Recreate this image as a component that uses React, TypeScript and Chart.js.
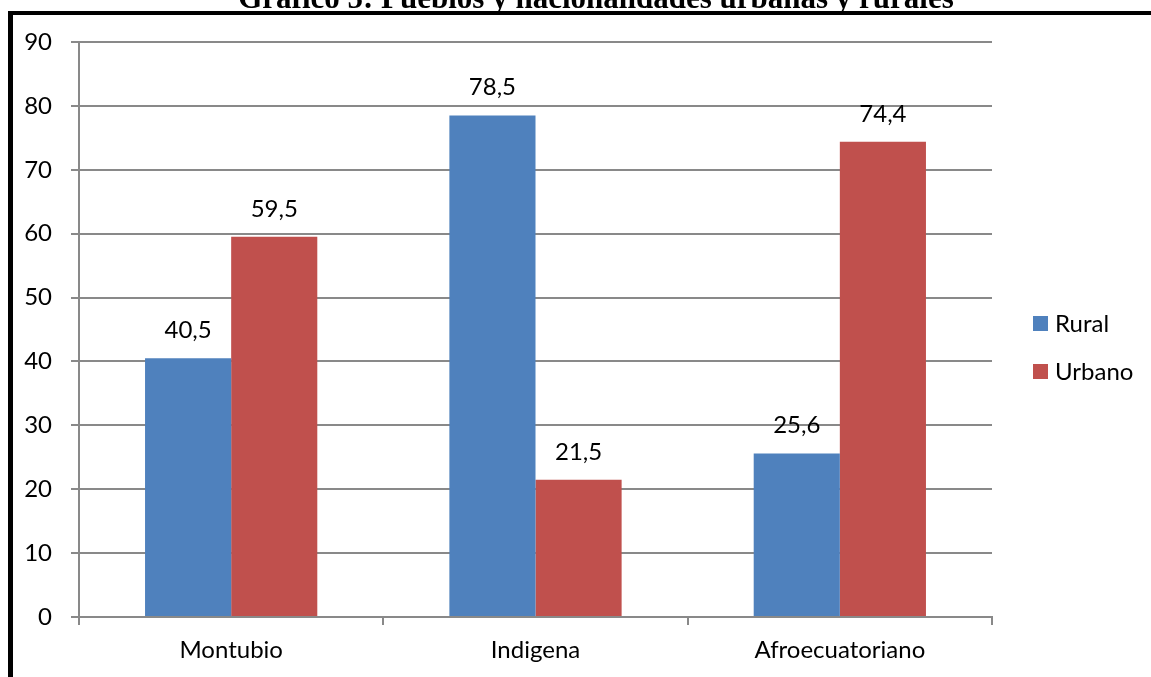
import React, { useEffect, useRef } from "react";
import { Chart, registerables } from "chart.js";

Chart.register(...registerables);

const title = "Gráfico 5: Pueblos y nacionalidades urbanas y rurales";
const categories = ["Montubio", "Indigena", "Afroecuatoriano"];
const seriesNames = ["Rural", "Urbano"];
const ruralValues = [40.5, 78.5, 25.6];
const urbanoValues = [59.5, 21.5, 74.4];
const seriesColors = ["#4F81BD", "#C0504D"];
const yMin = 0;
const yMax = 90;
const yStep = 10;

const FONT = "Lato, 'Open Sans', sans-serif";
const GRID = "#898989";

const fmt = (v: number) => v.toFixed(1).replace(".", ",");

const framePlugin = {
  id: "frame",
  beforeDraw(chart: any) {
    const ctx = chart.ctx;
    ctx.save();
    ctx.fillStyle = "#ffffff";
    ctx.fillRect(0, 0, chart.width, chart.height);
    ctx.fillStyle = "#000000";
    ctx.fillRect(8, 11, chart.width - 8, 4);
    ctx.fillRect(8, 11, 5, chart.height - 11);
    ctx.font = "bold 31px 'Liberation Serif', 'Times New Roman', serif";
    ctx.textAlign = "center";
    ctx.textBaseline = "alphabetic";
    ctx.fillText(title, 596, 8);
    ctx.restore();
  },
};

const valueLabelPlugin = {
  id: "valueLabels",
  afterDatasetsDraw(chart: any) {
    const ctx = chart.ctx;
    ctx.save();
    ctx.font = `24px ${FONT}`;
    ctx.fillStyle = "#000000";
    ctx.textAlign = "center";
    ctx.textBaseline = "alphabetic";
    chart.data.datasets.forEach((ds: any, i: number) => {
      const meta = chart.getDatasetMeta(i);
      meta.data.forEach((el: any, j: number) => {
        ctx.fillText(fmt(ds.data[j]), el.x, el.y - 20);
      });
    });
    ctx.restore();
  },
};

const legendPlugin = {
  id: "sideLegend",
  afterDraw(chart: any) {
    const ctx = chart.ctx;
    ctx.save();
    ctx.font = `24px ${FONT}`;
    ctx.textAlign = "left";
    ctx.textBaseline = "middle";
    chart.data.datasets.forEach((ds: any, i: number) => {
      const top = 316 + i * 48;
      ctx.fillStyle = ds.backgroundColor;
      ctx.fillRect(1033, top, 15, 15);
      ctx.fillStyle = "#000000";
      ctx.fillText(ds.label, 1055, top + 8);
    });
    ctx.restore();
  },
};

export default function App() {
  const canvasRef = useRef<HTMLCanvasElement | null>(null);

  useEffect(() => {
    if (!canvasRef.current) return;
    const chart = new Chart(canvasRef.current, {
      type: "bar",
      data: {
        labels: categories,
        datasets: [
          {
            label: seriesNames[0],
            data: ruralValues,
            backgroundColor: seriesColors[0],
            categoryPercentage: 0.566,
            barPercentage: 1,
          },
          {
            label: seriesNames[1],
            data: urbanoValues,
            backgroundColor: seriesColors[1],
            categoryPercentage: 0.566,
            barPercentage: 1,
          },
        ],
      },
      options: {
        responsive: false,
        animation: false,
        devicePixelRatio: 1,
        layout: { padding: { top: 42, left: 0, right: 159, bottom: 0 } },
        plugins: {
          legend: { display: false },
          title: { display: false },
          tooltip: { enabled: false },
        },
        scales: {
          x: {
            offset: true,
            grid: {
              display: true,
              offset: true,
              drawOnChartArea: false,
              drawTicks: true,
              tickLength: 8,
              color: GRID,
              lineWidth: 2,
            },
            border: { display: true, color: GRID, width: 2 },
            ticks: {
              color: "#000000",
              font: { family: FONT, size: 24 },
              padding: 11,
              maxRotation: 0,
            },
            afterFit: (scale: any) => {
              scale.height = 60;
            },
          },
          y: {
            min: yMin,
            max: yMax,
            grid: {
              color: GRID,
              lineWidth: 2,
              drawTicks: true,
              tickLength: 8,
            },
            border: { display: true, color: GRID, width: 2 },
            ticks: {
              stepSize: yStep,
              color: "#000000",
              font: { family: FONT, size: 24 },
              padding: 19,
            },
            afterFit: (scale: any) => {
              scale.width = 79;
            },
          },
        },
      },
      plugins: [framePlugin, valueLabelPlugin, legendPlugin],
    });
    return () => chart.destroy();
  }, []);

  return (
    <div style={{ position: "absolute", left: 0, top: 0, width: 1151, height: 677 }}>
      <canvas ref={canvasRef} width={1151} height={677} style={{ display: "block" }} />
    </div>
  );
}
